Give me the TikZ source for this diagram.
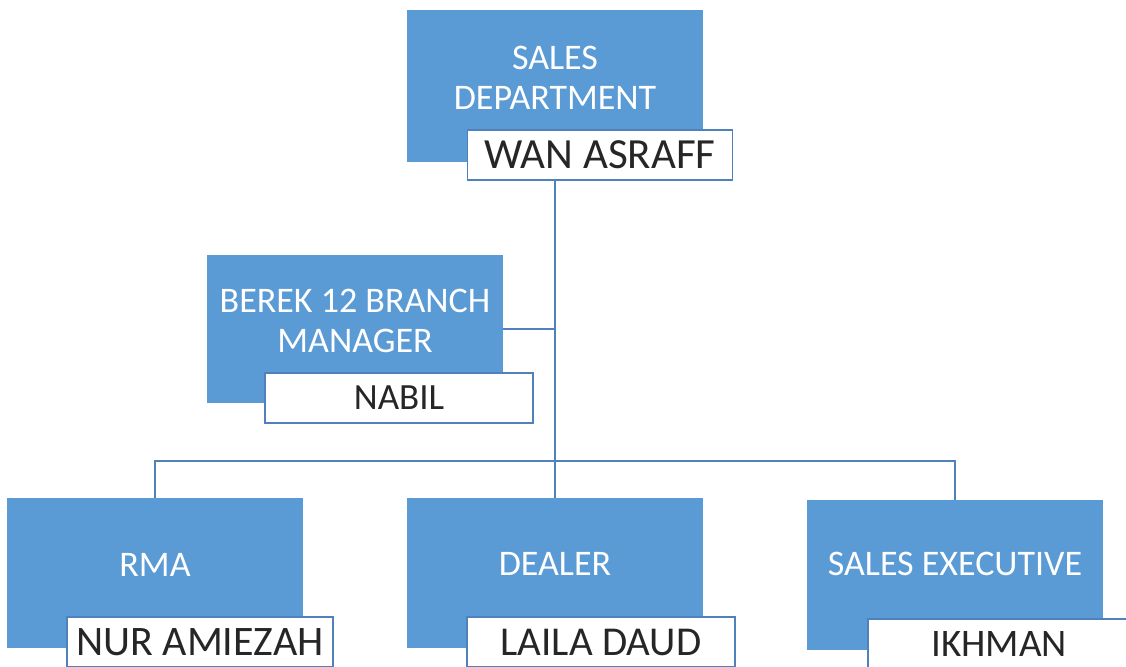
\documentclass[tikz,border=0pt]{standalone}
\usepackage{fontspec}
\setmainfont{Carlito}
\definecolor{boxblue}{HTML}{5B9BD5}
\definecolor{lineblue}{HTML}{4F81BD}
\begin{document}
\begin{tikzpicture}[x=1pt,y=-1pt,
  bluebox/.style={rectangle, fill=boxblue, draw=none, minimum width=296pt, inner sep=0pt},
  namebox/.style={rectangle, fill=white, draw=lineblue, line width=1.5pt, minimum height=50pt, inner sep=0pt, text=black!85},
  titletext/.style={text=white, align=center, font=\fontsize{36}{40}\selectfont, inner sep=0pt},
  conn/.style={draw=lineblue, line width=2pt}]
\useasboundingbox (0,0) rectangle (1126,666);
% top
\node[bluebox, minimum height=152pt] (top) at (555,86) {};
\node[titletext] (topT) at (555,78) {SALES\\DEPARTMENT};
\node[namebox, minimum width=265pt, font=\fontsize{43}{45}\selectfont] (topN) at (600,155) {WAN ASRAFF};
% branch manager
\node[bluebox, minimum height=148pt] (berek) at (355,329) {};
\node[titletext] (berekT) at (355,321) {BEREK 12 BRANCH\\MANAGER};
\node[namebox, minimum width=268pt, font=\fontsize{37}{40}\selectfont] (berekN) at (399,398) {NABIL};
% bottom row
\node[bluebox, minimum height=150pt] (rma) at (155,573) {};
\node[titletext] (rmaT) at (155,565) {RMA};
\node[namebox, minimum width=266pt, font=\fontsize{42}{45}\selectfont] (rmaN) at (200,642) {NUR AMIEZAH};
\node[bluebox, minimum height=150pt] (dealer) at (555,573) {};
\node[titletext] (dealerT) at (555,564) {DEALER};
\node[namebox, minimum width=268pt, font=\fontsize{41}{45}\selectfont] (dealerN) at (601,642) {LAILA DAUD};
\node[bluebox, minimum height=150pt] (exec) at (955,575) {};
\node[titletext] (execT) at (955,564) {SALES EXECUTIVE};
\node[namebox, minimum width=262pt, font=\fontsize{39}{42}\selectfont] (execN) at (999,644) {IKHMAN};
% connectors
\coordinate (bus) at (555,461);
\draw[conn] (top.south |- topN.south) -- (dealer.north);
\draw[conn] (berek.east) -- (berek.east -| top.south);
\draw[conn] (rma.north) |- (bus) -| (exec.north);
\end{tikzpicture}
\end{document}
